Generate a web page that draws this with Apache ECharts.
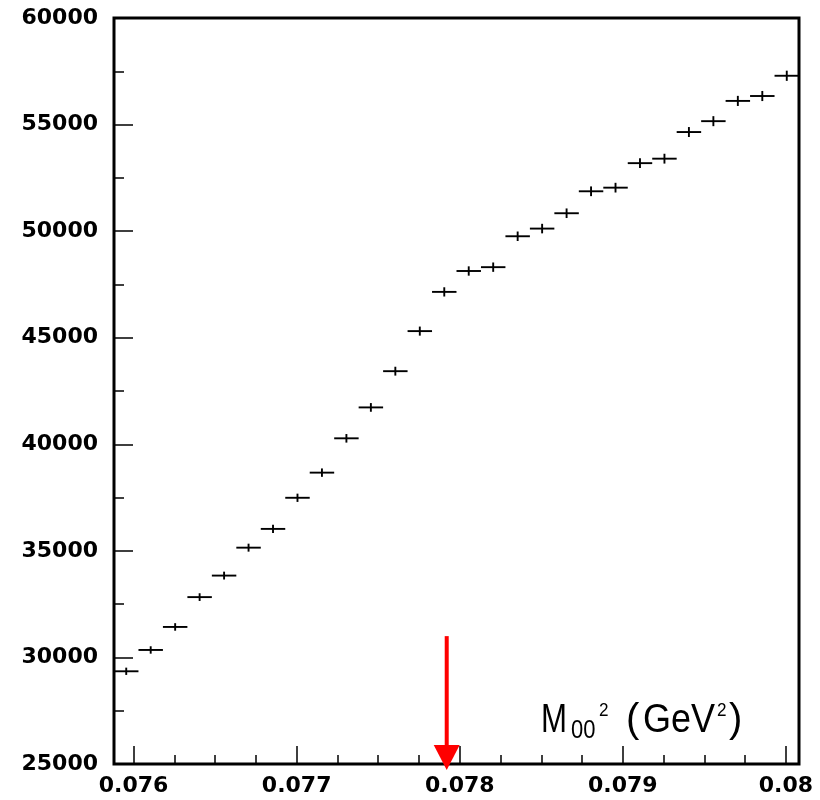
<!DOCTYPE html>
<html>
<head>
<meta charset="utf-8">
<script src="https://cdn.jsdelivr.net/npm/echarts@6.0.0/dist/echarts.min.js"></script>
<style>
  html, body { margin: 0; padding: 0; background: #ffffff; }
  #chart { width: 820px; height: 800px; }
</style>
</head>
<body>
<div id="chart"></div>
<script>
// ---- data ----
const binCenters = [
  0.075955, 0.076105, 0.076255, 0.076405, 0.076555, 0.076705, 0.076855,
  0.077005, 0.077155, 0.077305, 0.077455, 0.077605, 0.077755, 0.077905,
  0.078055, 0.078205, 0.078355, 0.078505, 0.078655, 0.078805, 0.078955,
  0.079105, 0.079255, 0.079405, 0.079555, 0.079705, 0.079855, 0.080005
];
const counts = [
  29350, 30350, 31430, 32830, 33840, 35150, 36030,
  37490, 38670, 40280, 41730, 43430, 45310, 47150,
  48130, 48310, 49760, 50120, 50840, 51870, 52040,
  53190, 53400, 54650, 55160, 56110, 56340, 57290
];
const countErrors = [
  171, 174, 177, 181, 184, 187, 190,
  194, 197, 201, 204, 208, 213, 217,
  219, 220, 223, 224, 225, 228, 228,
  231, 231, 234, 235, 237, 237, 239
];
const binHalfWidth = 0.000075;
const xMin = 0.07588, xMax = 0.08008;
const yMin = 25000, yMax = 60000, yStep = 5000;
const xMajorTicks = [0.076, 0.077, 0.078, 0.079, 0.08];
const xMajorLabels = ['0.076', '0.077', '0.078', '0.079', '0.08'];
const xMinorTicks = [0.07625, 0.0765, 0.07675, 0.07725, 0.0775, 0.07775,
                     0.07825, 0.0785, 0.07875, 0.07925, 0.0795, 0.07975];
const yTickLabels = ['25000', '30000', '35000', '40000', '45000', '50000', '55000', '60000'];
const arrowX = 0.07792;
const arrowTopY = 31000;

const points = binCenters.map((x, i) => [x, counts[i], countErrors[i]]);

const chart = echarts.init(document.getElementById('chart'), null, { renderer: 'canvas' });

const labelFont = { fontFamily: 'DejaVu Sans', fontWeight: 'bold', fontSize: 22, color: '#000' };

function renderErr(params, api) {
  const x = api.value(0), y = api.value(1), e = api.value(2);
  const pL = api.coord([x - binHalfWidth, y]);
  const pR = api.coord([x + binHalfWidth, y]);
  const pT = api.coord([x, y + e]);
  const pB = api.coord([x, y - e]);
  const st = { stroke: '#000', lineWidth: 1.9 };
  return {
    type: 'group',
    children: [
      { type: 'line', shape: { x1: pL[0], y1: pL[1], x2: pR[0], y2: pR[1] }, style: st },
      { type: 'line', shape: { x1: pT[0], y1: pT[1], x2: pB[0], y2: pB[1] }, style: st }
    ]
  };
}

function renderArrow(params, api) {
  const top = api.coord([api.value(0), api.value(1)]);
  const base = api.coord([api.value(0), yMin]);
  const headTop = base[1] - 19;
  return {
    type: 'group',
    children: [
      { type: 'rect', shape: { x: top[0] - 2, y: top[1], width: 4, height: headTop - top[1] + 1 },
        style: { fill: '#ff0000' } },
      { type: 'polygon', shape: { points: [[top[0] - 13, headTop], [top[0] + 13, headTop], [top[0], base[1] + 6]] },
        style: { fill: '#ff0000' } }
    ]
  };
}

function titleText(text, x, y, size, sx) {
  return {
    type: 'text', x: x, y: y, scaleX: sx, z: 100,
    style: {
      text: text, x: 0, y: 0, fill: '#000',
      font: 'normal ' + size + 'px "Liberation Sans", Arial, sans-serif',
      align: 'left', verticalAlign: 'middle'
    }
  };
}

chart.setOption({
  animation: false,
  backgroundColor: '#ffffff',
  grid: {
    left: 114, right: 21, top: 18, bottom: 36,
    show: true, borderColor: '#000', borderWidth: 3, backgroundColor: 'transparent',
    containLabel: false, outerBoundsMode: 'none'
  },
  xAxis: [
    {
      type: 'value', min: xMin, max: xMax, position: 'bottom',
      axisLine: { show: false },
      splitLine: { show: false },
      axisTick: { show: true, inside: true, length: 18, lineStyle: { color: '#000', width: 1.5 },
                  customValues: xMajorTicks },
      axisLabel: Object.assign({ show: true, margin: 11, customValues: xMajorTicks,
        formatter: function (v) {
          const i = xMajorTicks.findIndex(t => Math.abs(t - v) < 1e-9);
          return i >= 0 ? xMajorLabels[i] : '';
        } }, labelFont)
    },
    {
      type: 'value', min: xMin, max: xMax, position: 'bottom',
      axisLine: { show: false },
      splitLine: { show: false },
      axisTick: { show: true, inside: true, length: 9, lineStyle: { color: '#000', width: 1.5 },
                  customValues: xMinorTicks },
      axisLabel: { show: false }
    }
  ],
  yAxis: {
    type: 'value', min: yMin, max: yMax, interval: yStep,
    axisLine: { show: false },
    splitLine: { show: false },
    axisTick: { show: true, inside: true, length: 19, lineStyle: { color: '#000', width: 1.5 } },
    minorTick: { show: true, splitNumber: 2, length: 10, lineStyle: { color: '#000', width: 1.5 } },
    minorSplitLine: { show: false },
    axisLabel: Object.assign({ margin: 16, formatter: function (v, i) {
      return yTickLabels[Math.round((v - yMin) / yStep)];
    } }, labelFont)
  },
  series: [
    {
      type: 'custom', name: 'counts', xAxisIndex: 0, yAxisIndex: 0,
      renderItem: renderErr, data: points, clip: true,
      encode: { x: 0, y: 1 }
    },
    {
      type: 'custom', name: 'arrow', xAxisIndex: 0, yAxisIndex: 0,
      renderItem: renderArrow, data: [[arrowX, arrowTopY]], clip: false, z: 5,
      encode: { x: 0, y: 1 }
    }
  ],
  graphic: [
    titleText('M', 541, 721, 40, 0.78),
    titleText('00', 571, 731, 25, 0.88),
    titleText('2', 599, 711, 19, 0.9),
    titleText('(', 626, 721, 40, 1.0),
    titleText('GeV', 643, 721, 40, 0.9),
    titleText('2', 717, 711, 19, 0.9),
    titleText(')', 729, 721, 40, 1.0)
  ]
});
</script>
</body>
</html>
